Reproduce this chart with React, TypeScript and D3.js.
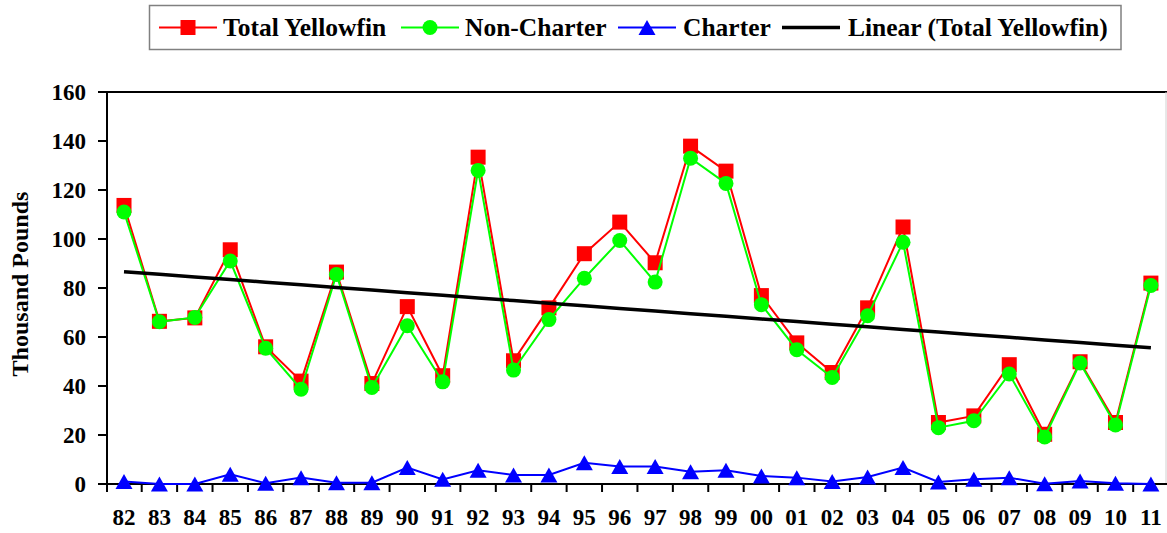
import React from "react";
import * as d3 from "d3";

const categories = ["82","83","84","85","86","87","88","89","90","91","92","93","94","95","96","97","98","99","00","01","02","03","04","05","06","07","08","09","10","11"];
const totalYellowfin = [113.7,66.4,67.8,95.6,56,42,86.5,41,72.4,44.2,133.4,50.3,71.9,94,106.9,90.3,137.9,127.7,76.9,57.6,45.5,71.9,104.9,25.1,27.8,48.7,20.3,49.9,25.1,82];
const nonCharter = [111,66.2,68,91,55.4,38.7,85.5,39.4,64.6,41.7,128,46.5,67.1,84,99.4,82.4,133,122.7,73.2,54.8,43.5,68.7,98.7,23,25.8,44.9,19.2,49.4,24.1,81];
const charter = [1,0,0,4,0.3,2.6,0.5,0.5,6.7,1.9,5.6,3.7,3.7,8.7,7.1,7.1,5,5.6,3.3,2.6,1,2.9,6.7,0.8,1.9,2.6,0.1,1.2,0.3,0];
const yTicks = [0,20,40,60,80,100,120,140,160];
const legendLabels = ["Total Yellowfin","Non-Charter","Charter","Linear (Total Yellowfin)"];

const W = 1167, H = 533;
const FONT = "'Liberation Serif', 'Times New Roman', serif";

export default function App() {
  const x = d3.scaleBand<string>().domain(categories).range([106.3, 1168.6]).padding(0);
  const y = d3.scaleLinear().domain([0, 160]).range([484, 92]);
  const cx = (c: string) => (x(c) as number) + x.bandwidth() / 2;

  const lineGen = (vals: number[]) =>
    d3.line<number>().x((_, i) => cx(categories[i])).y((v) => y(v))(vals) as string;

  // linear regression for trend
  const n = totalYellowfin.length;
  const idx = d3.range(1, n + 1);
  const mx = d3.mean(idx) as number;
  const my = d3.mean(totalYellowfin) as number;
  let sxy = 0, sxx = 0;
  idx.forEach((xi, i) => { sxy += (xi - mx) * (totalYellowfin[i] - my); sxx += (xi - mx) ** 2; });
  const slope = sxy / sxx;
  const intercept = my - slope * mx;
  const trendVals = idx.map((xi) => intercept + slope * xi);

  const sq = 15, r = 7.5;
  const tri = (px: number, py: number, w = 17, h = 15) =>
    `M${px},${py - h / 2}L${px + w / 2},${py + h / 2}L${px - w / 2},${py + h / 2}Z`;

  const legendItems = [
    { lx: 159, tx: 223, color: "#FF0000", kind: "square", w: 2 },
    { lx: 401, tx: 465, color: "#00FF00", kind: "circle", w: 2 },
    { lx: 618, tx: 683, color: "#0000FF", kind: "triangle", w: 2 },
    { lx: 782, tx: 848, color: "#000000", kind: "none", w: 3.5 },
  ];

  return (
    <div style={{ position: "absolute", left: 0, top: 0 }}>
      <svg width={W} height={H} style={{ display: "block", background: "#fff" }} fontFamily={FONT}>
        {/* legend */}
        <rect x={149.5} y={5.5} width={971.5} height={44} fill="#fff" stroke="#808080" strokeWidth={1.5} />
        {legendItems.map((it, i) => {
          const ly = 27.5;
          const mid = it.lx + 29;
          return (
            <g key={i}>
              <line x1={it.lx} x2={it.lx + 58} y1={ly} y2={ly} stroke={it.color} strokeWidth={it.w} />
              {it.kind === "square" && <rect x={mid - sq / 2} y={ly - sq / 2} width={sq} height={sq} fill={it.color} />}
              {it.kind === "circle" && <circle cx={mid} cy={ly} r={r} fill={it.color} />}
              {it.kind === "triangle" && <path d={tri(mid, ly)} fill={it.color} />}
              <text x={it.tx} y={36} fontSize={25.5} fontWeight="bold" fill="#000">{legendLabels[i]}</text>
            </g>
          );
        })}

        {/* plot frame */}
        <line x1={107} x2={1167} y1={92} y2={92} stroke="#000" strokeWidth={2} />
        <line x1={1166} x2={1166} y1={92} y2={484} stroke="#d0d0d0" strokeWidth={1} />

        {/* y axis */}
        <line x1={107} x2={107} y1={91} y2={492} stroke="#000" strokeWidth={2} />
        {yTicks.map((t) => (
          <g key={t}>
            <line x1={98} x2={107} y1={y(t)} y2={y(t)} stroke="#000" strokeWidth={2} />
            <text x={86} y={y(t)} dy="0.36em" textAnchor="end" fontSize={23} fontWeight="bold">{t}</text>
          </g>
        ))}
        <text transform={`translate(28,284) rotate(-90)`} textAnchor="middle" fontSize={24} fontWeight="bold">Thousand Pounds</text>

        {/* x axis */}
        <line x1={106} x2={1167} y1={484} y2={484} stroke="#000" strokeWidth={2} />
        {categories.map((c, i) => (
          <g key={c}>
            {i > 0 && <line x1={x(c) as number} x2={x(c) as number} y1={484} y2={492} stroke="#000" strokeWidth={2} />}
            <text x={cx(c)} y={525} textAnchor="middle" fontSize={23} fontWeight="bold">{c}</text>
          </g>
        ))}

        {/* series */}
        <path d={lineGen(totalYellowfin)} fill="none" stroke="#FF0000" strokeWidth={2} />
        {totalYellowfin.map((v, i) => (
          <rect key={"t" + i} x={cx(categories[i]) - sq / 2} y={y(v) - sq / 2} width={sq} height={sq} fill="#FF0000" />
        ))}
        <path d={lineGen(nonCharter)} fill="none" stroke="#00FF00" strokeWidth={2} />
        {nonCharter.map((v, i) => (
          <circle key={"n" + i} cx={cx(categories[i])} cy={y(v)} r={r} fill="#00FF00" />
        ))}
        <path d={lineGen(charter)} fill="none" stroke="#0000FF" strokeWidth={2} />
        {charter.map((v, i) => (
          <path key={"c" + i} d={tri(cx(categories[i]), y(v))} fill="#0000FF" />
        ))}
        <path d={lineGen(trendVals)} fill="none" stroke="#000" strokeWidth={3.5} />
      </svg>
    </div>
  );
}
